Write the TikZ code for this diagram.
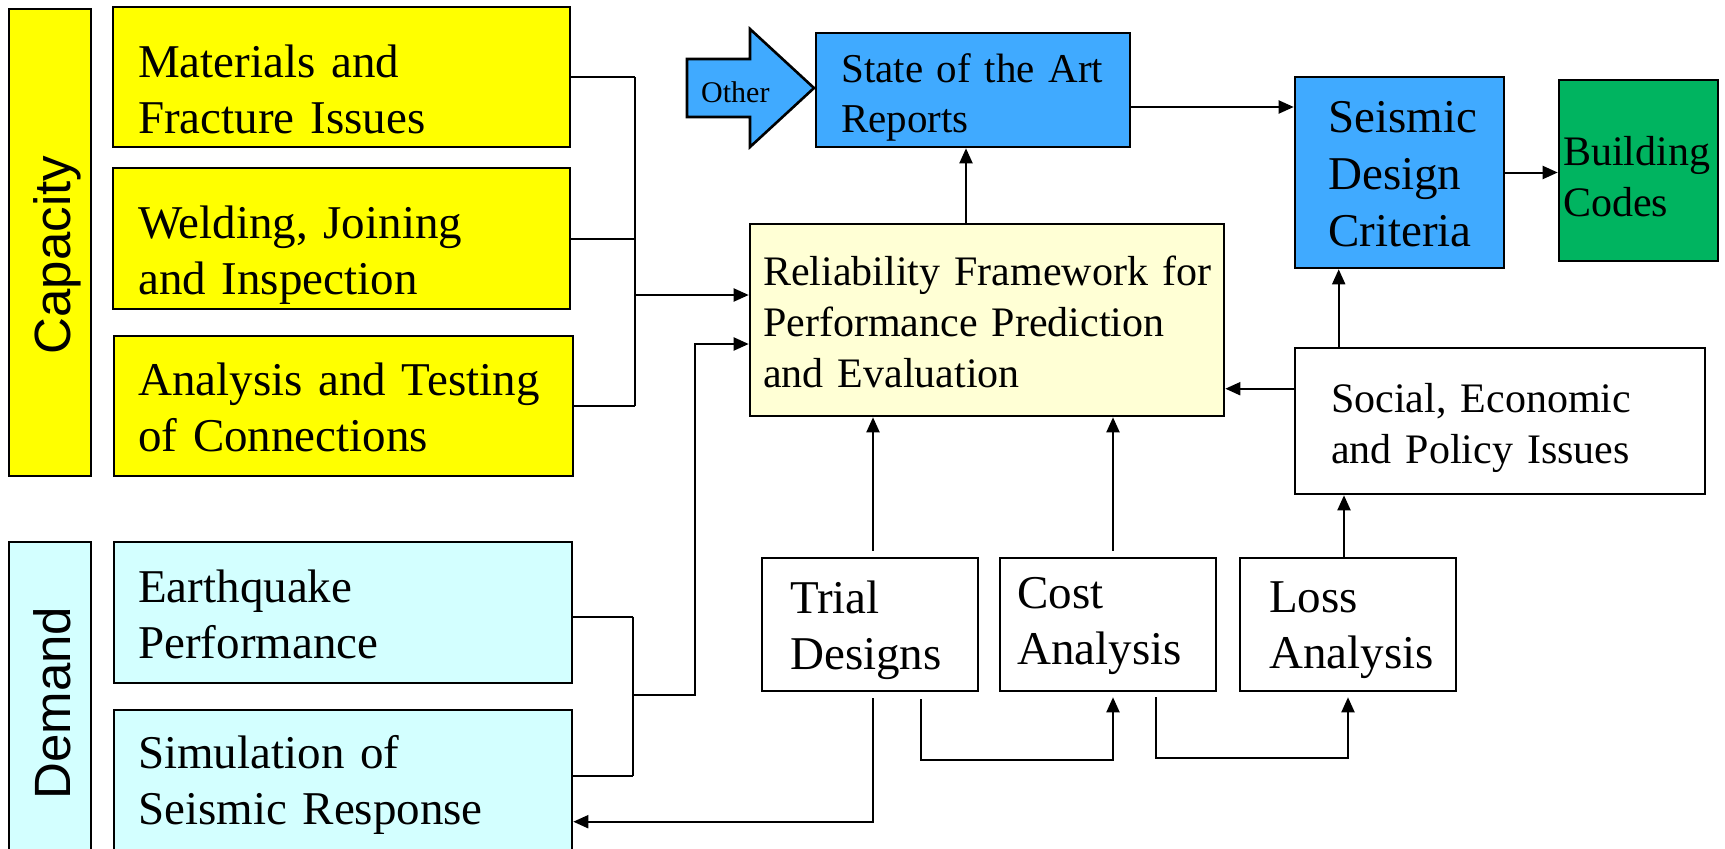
\documentclass[tikz,border=0pt]{standalone}
\usepackage{fontspec}
\setmainfont{Liberation Serif}
\newfontfamily\arialf{Liberation Sans}
\usetikzlibrary{arrows.meta,fit}
\definecolor{capY}{HTML}{FFFF00}
\definecolor{demC}{HTML}{D3FFFF}
\definecolor{relY}{HTML}{FFFFD5}
\definecolor{stBlue}{HTML}{40AAFF}
\definecolor{bcGreen}{HTML}{00B460}
\begin{document}
\begin{tikzpicture}[x=1pt,y=-1pt,
  boxs/.style={draw=black, line width=2.6pt, inner sep=0pt},
  txt/.style={inner sep=0pt, anchor=base west, align=left, text width=520pt},
  conn/.style={line width=2pt},
  arr/.style={conn, -{Triangle[length=15pt,width=13pt]}},
  fA/.style={font=\fontsize{47}{56}\selectfont},
  fB/.style={font=\fontsize{42}{51}\selectfont},
  fC/.style={font=\fontsize{47}{56}\selectfont},
  side/.style={rotate=90, anchor=base, inner sep=0pt, font=\arialf\fontsize{51}{60}\selectfont}
]
\path[use as bounding box] (0,0) rectangle (1725,849);
\clip (0,0) rectangle (1725,849);

% side bars
\node[boxs, fill=capY, fit={(9,9) (91,476)}] (cap) {};
\node[side] (capT) at (70,255) {Capacity};
\node[boxs, fill=demC, fit={(9,542) (91,872)}] (dem) {};
\node[side] (demT) at (70,703) {Demand};

% capacity boxes
\node[boxs, fill=capY, fit={(113,7) (570,147)}] (mat) {};
\node[txt, fA] (matT) at (138,77) {Materials and\\Fracture Issues};
\node[boxs, fill=capY, fit={(113,168) (570,309)}] (wel) {};
\node[txt, fA] (welT) at (138,238) {Welding, Joining\\and Inspection};
\node[boxs, fill=capY, fit={(114,336) (573,476)}] (ana) {};
\node[txt, fA] (anaT) at (138,395) {Analysis and Testing\\of Connections};

% demand boxes
\node[boxs, fill=demC, fit={(114,542) (572,683)}] (eq) {};
\node[txt, fA] (eqT) at (138,602) {Earthquake\\Performance};
\node[boxs, fill=demC, fit={(114,710) (572,872)}] (sim) {};
\node[txt, fA] (simT) at (138,768) {Simulation of\\Seismic Response};

% central boxes
\node[boxs, fill=stBlue, fit={(816,33) (1130,147)}] (sta) {};
\node[txt, font=\fontsize{41}{50}\selectfont] (staT) at (841,82) {State of the Art\\Reports};
\node[boxs, fill=relY, fit={(750,224) (1224,416)}] (rel) {};
\node[txt, fB] (relT) at (763,285) {Reliability Framework for\\Performance Prediction\\and Evaluation};
\node[boxs, fill=stBlue, fit={(1295,77) (1504,268)}] (sdc) {};
\node[txt, font=\fontsize{47}{57}\selectfont] (sdcT) at (1328,132) {Seismic\\Design\\Criteria};
\node[boxs, fill=bcGreen, fit={(1559,80) (1718,261)}] (bc) {};
\node[txt, fB] (bcT) at (1563,165) {Building\\Codes};
\node[boxs, fill=white, fit={(1295,348) (1705,494)}] (soc) {};
\node[txt, fB] (socT) at (1331,412) {Social, Economic\\and Policy Issues};

% bottom boxes
\node[boxs, fill=white, fit={(762,558) (978,691)}] (tri) {};
\node[txt, fC] (triT) at (790,613) {Trial\\Designs};
\node[boxs, fill=white, fit={(1000,558) (1216,691)}] (cost) {};
\node[txt, fC] (costT) at (1017,608) {Cost\\Analysis};
\node[boxs, fill=white, fit={(1240,558) (1456,691)}] (loss) {};
\node[txt, fC] (lossT) at (1269,612) {Loss\\Analysis};

% Other arrow
\draw[line width=2.6pt, fill=stBlue, line join=miter]
  (687,59) -- (750,59) -- (750,29) -- (814,88) -- (750,147) -- (750,117) -- (687,117) -- cycle;
\node[txt, font=\fontsize{30}{34}\selectfont, text width=80pt] (oth) at (701,102) {Other};

% capacity bus
\coordinate (cb) at (635,295);
\draw[conn] (mat.east) -- (mat.east -| cb);
\draw[conn] (wel.east) -- (wel.east -| cb);
\draw[conn] (ana.east) -- (ana.east -| cb);
\draw[conn] (mat.east -| cb) -- (ana.east -| cb);
\draw[arr] (cb) -- (cb -| rel.west);

% demand bus
\coordinate (db) at (633,695);
\coordinate (dt) at (695,344);
\draw[conn] ([yshift=-4pt]eq.east) -- ([yshift=-4pt]eq.east -| db);
\draw[conn] ([yshift=-67pt]sim.north east) -- ([yshift=-67pt]sim.north east -| db);
\draw[conn] ([yshift=-4pt]eq.east -| db) -- ([yshift=-67pt]sim.north east -| db);
\draw[arr] (db) -- (db -| dt) -- (dt) -- (dt -| rel.west);

% main flow
\draw[arr] ([xshift=-7pt]sta.south |- rel.north) -- ([xshift=-7pt]sta.south);
\draw[arr] ([yshift=-17pt]sta.east) -- ([yshift=-17pt]sta.east -| sdc.west);
\draw[arr] (sdc.east) -- (sdc.east -| bc.west);
\draw[arr] ([xshift=45pt]sdc.south west |- soc.north) -- ([xshift=45pt]sdc.south west);
\draw[arr] ([yshift=-42pt]soc.north west) -- ([yshift=-42pt]soc.north west -| rel.east);

% bottom arrows up
\draw[arr] ([xshift=3pt,yshift=6pt]tri.north) -- ([xshift=3pt]tri.north |- rel.south);
\draw[arr] ([xshift=5pt,yshift=6pt]cost.north) -- ([xshift=5pt]cost.north |- rel.south);
\draw[arr] ([xshift=-4pt]loss.north) -- ([xshift=-4pt]loss.north |- soc.south);

% bottom loops
\draw[arr] ([xshift=3pt,yshift=-6pt]tri.south) |- ([yshift=-113pt]sim.north east);
\draw[arr] ([xshift=51pt,yshift=-7pt]tri.south) -- ++(0,61) -| ([xshift=5pt,yshift=-5pt]cost.south);
\draw[arr] ([xshift=48pt,yshift=-5pt]cost.south) -- ++(0,61) -| ([yshift=-5pt]loss.south);
\end{tikzpicture}
\end{document}
